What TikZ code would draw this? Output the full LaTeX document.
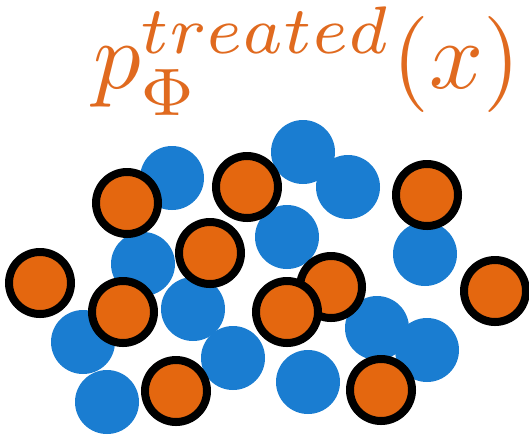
\documentclass[tikz,border=0pt]{standalone}
\usepackage{graphicx}
\definecolor{dotblue}{HTML}{1A7DD1}
\definecolor{dotorange}{HTML}{E4670F}
\definecolor{txtorange}{HTML}{E06A1F}
\tikzset{
  bluedot/.style={circle, fill=dotblue, minimum size=64pt, inner sep=0pt},
  orangedot/.style={circle, fill=dotorange, draw=black, line width=8pt, minimum size=62pt, inner sep=0pt},
}
\begin{document}
\begin{tikzpicture}[x=1pt,y=-1pt]
\useasboundingbox (0,0) rectangle (529,437);
% blue dots
\node[bluedot] (b1) at (172,178) {};
\node[bluedot] (b2) at (143,264) {};
\node[bluedot] (b3) at (193,309) {};
\node[bluedot] (b4) at (83,342) {};
\node[bluedot] (b5) at (233,358) {};
\node[bluedot] (b6) at (107,402) {};
\node[bluedot] (b7) at (303,152) {};
\node[bluedot] (b8) at (348,187) {};
\node[bluedot] (b9) at (287,237) {};
\node[bluedot] (b10) at (425,254) {};
\node[bluedot] (b11) at (377,328) {};
\node[bluedot] (b12) at (427,350) {};
\node[bluedot] (b13) at (308,382) {};
% orange dots
\node[orangedot] (o1) at (127,203) {};
\node[orangedot] (o2) at (247,187) {};
\node[orangedot] (o3) at (210,253) {};
\node[orangedot] (o4) at (40,283) {};
\node[orangedot] (o5) at (123,312) {};
\node[orangedot] (o6) at (176,391) {};
\node[orangedot] (o7) at (427,195) {};
\node[orangedot] (o8) at (331,287) {};
\node[orangedot] (o9) at (287,312) {};
\node[orangedot] (o10) at (495,291) {};
\node[orangedot] (o11) at (381,390) {};
% label
\node[anchor=north west, inner sep=0pt, text=txtorange] (lbl) at (93,7)
  {\resizebox*{427pt}{108pt}{$p_{\Phi}^{treated}(x)$}};
\end{tikzpicture}
\end{document}
